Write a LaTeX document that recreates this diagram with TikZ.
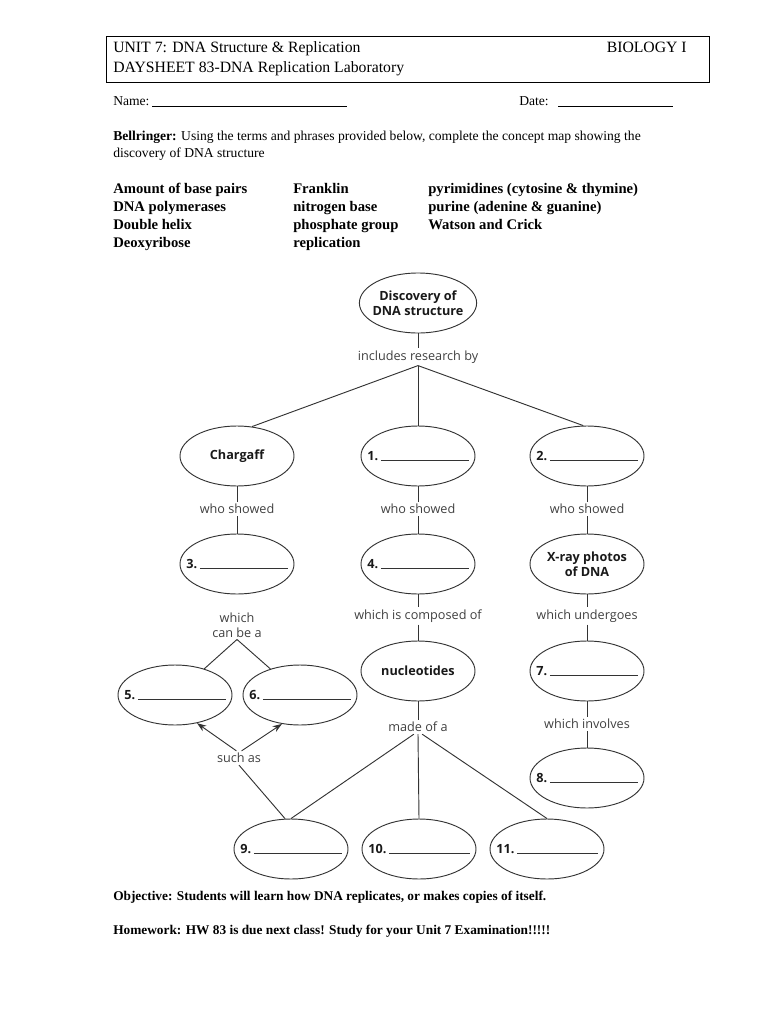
\documentclass[tikz,border=0pt]{standalone}
\usepackage{fontspec}
\setmainfont{Liberation Serif}
\newfontfamily\mapfont{Open Sans}
\usetikzlibrary{shapes.geometric,arrows.meta}
\definecolor{MapLine}{HTML}{333333}
\definecolor{MapText}{HTML}{404040}
\newcommand{\mapsize}{\fontsize{9.5}{11}\selectfont}
\newcommand{\fillin}[1]{\makebox[0pt]{\makebox[76pt][l]{#1\hspace{2pt}\textcolor{MapLine}{\hrulefill}}}}

\begin{document}
\begin{tikzpicture}[x=0.75pt,y=-0.75pt,
                    every node/.style={inner sep=0pt},
                    page/.style={anchor=base west, font=\fontsize{10.2}{12}\selectfont},
                    oval/.style={ellipse, draw=MapLine, line width=0.7pt, minimum width=85.5pt,
                                 minimum height=45pt, inner xsep=-3pt, align=center,
                                 font=\mapfont\bfseries\mapsize, text=black!90},
                    link/.style={inner sep=1.5pt, align=center, font=\mapfont\mapsize, text=MapText},
                    conn/.style={draw=MapLine, line width=0.7pt}]
  \useasboundingbox (0,0) rectangle (768,1024);
  % header
  \draw[line width=0.7pt] (106,36) rectangle (709,82);
  \node[anchor=base west, font=\fontsize{11.8}{14}\selectfont] (unit) at (113,53) {UNIT 7: DNA Structure \& Replication};
  \node[anchor=base east, font=\fontsize{11.8}{14}\selectfont] (bio) at (687,53) {BIOLOGY I};
  \node[anchor=base west, font=\fontsize{11.8}{14}\selectfont] (day) at (113,73) {DAYSHEET 83-DNA Replication Laboratory};
  \node[page] (name) at (113,105) {Name:};
  \draw[line width=0.5pt] (152,106) -- (347,106);
  \node[page] (date) at (519,105) {Date:};
  \draw[line width=0.5pt] (558,106) -- (673,106);
  \node[page] (bell) at (113,140) {\textbf{Bellringer:} Using the terms and phrases provided below, complete the concept map showing the};
  \node[page] (bell2) at (113,157) {discovery of DNA structure};
  % word bank
  \foreach \y/\a/\b/\c in {193/Amount of base pairs/Franklin/pyrimidines (cytosine \& thymine),
                           211/DNA polymerases/nitrogen base/purine (adenine \& guanine),
                           229/Double helix/phosphate group/Watson and Crick,
                           247/Deoxyribose/replication/}{
    \node[page, font=\fontsize{11}{13}\selectfont\bfseries] at (113,\y) {\a};
    \node[page, font=\fontsize{11}{13}\selectfont\bfseries] at (293,\y) {\b};
    \node[page, font=\fontsize{11}{13}\selectfont\bfseries] at (428,\y) {\c};
  }
  % concept map
  \node[oval] (top) at (418,303) {Discovery of\\DNA structure};
  \node[link] (incl) at (418,357) {includes research by};
  \node[oval] (chargaff) at (237,456) {Chargaff};
  \node[oval] (blank1) at (418,456) {\fillin{1.}};
  \node[oval] (blank2) at (587,456) {\fillin{2.}};
  \node[link] (whoA) at (237,509) {who showed};
  \node[link] (whoB) at (418,509) {who showed};
  \node[link] (whoC) at (587,509) {who showed};
  \node[oval] (blank3) at (237,564) {\fillin{3.}};
  \node[oval] (blank4) at (418,564) {\fillin{4.}};
  \node[oval] (xray) at (587,564) {X-ray photos\\of DNA};
  \node[link] (canbe) at (237,625) {which\\can be a};
  \node[link] (composed) at (418,616) {which is composed of};
  \node[link] (undergoes) at (587,616) {which undergoes};
  \node[oval] (blank5) at (175,695) {\fillin{5.}};
  \node[oval] (blank6) at (300,695) {\fillin{6.}};
  \node[oval] (nucleo) at (418,671) {nucleotides};
  \node[oval] (blank7) at (587,671) {\fillin{7.}};
  \node[link] (suchas) at (239,758) {such as};
  \node[link] (madeof) at (418,727) {made of a};
  \node[link] (involves) at (587,724) {which involves};
  \node[oval] (blank8) at (587,778) {\fillin{8.}};
  \node[oval] (blank9) at (291,849) {\fillin{9.}};
  \node[oval] (blank10) at (419,849) {\fillin{10.}};
  \node[oval] (blank11) at (547,849) {\fillin{11.}};
  \foreach \a/\b in {top/incl, incl/blank1, chargaff/whoA, whoA/blank3, blank1/whoB, whoB/blank4,
                     blank2/whoC, whoC/xray, blank4/composed, composed/nucleo, xray/undergoes,
                     undergoes/blank7, nucleo/madeof, blank7/involves, involves/blank8}
    \draw[conn] (\a) -- (\b);
  \draw[conn] (incl.south) -- (chargaff.63);
  \draw[conn] (incl.south) -- (blank2.97);
  \draw[conn] (canbe.south) -- (blank5);
  \draw[conn] (canbe.south) -- (blank6);
  \draw[conn, -{Stealth[length=7pt,width=5pt]}] (suchas.110) -- (blank5.-52);
  \draw[conn, -{Stealth[length=7pt,width=5pt]}] (suchas.70) -- (blank6.-122);
  \draw[conn] (suchas.south) -- (blank9.101);
  \draw[conn] (madeof.240) -- (blank9.north);
  \draw[conn] (madeof.south) -- (blank10.north);
  \draw[conn] (madeof.300) -- (blank11.north);
  % footer
  \node[page, font=\fontsize{10}{12}\selectfont\bfseries] (obj) at (113,900) {Objective: Students will learn how DNA replicates, or makes copies of itself.};
  \node[page, font=\fontsize{10}{12}\selectfont\bfseries] (hw) at (113,934) {Homework: HW 83 is due next class! Study for your Unit 7 Examination!!!!!};
\end{tikzpicture}
\end{document}
